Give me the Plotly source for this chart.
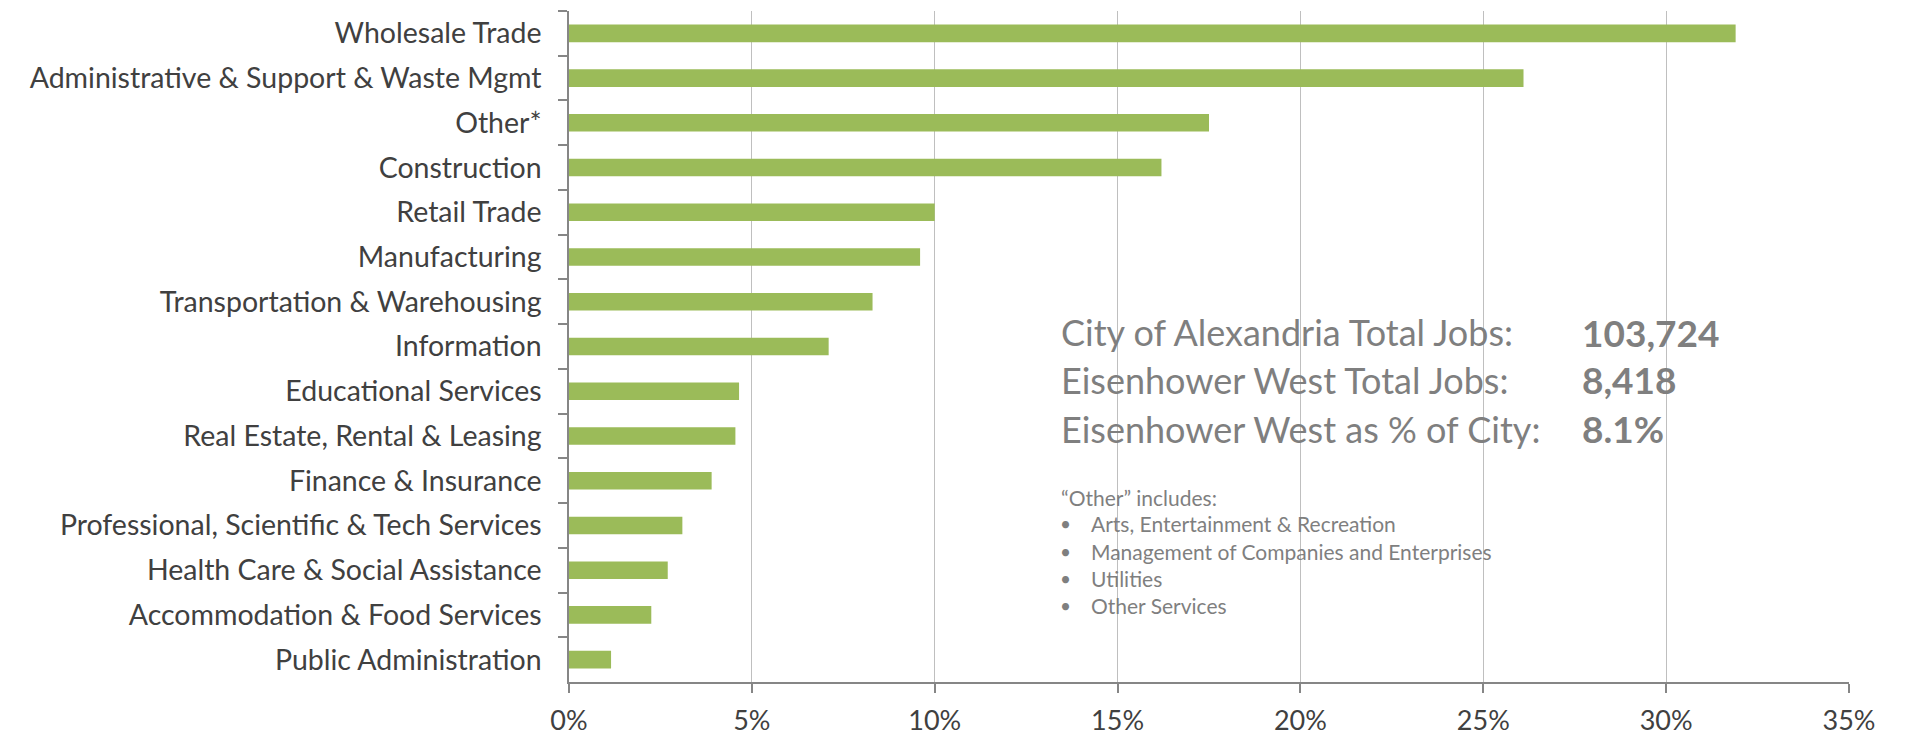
import plotly.graph_objects as go

categories = [
    "Wholesale Trade",
    "Administrative & Support & Waste Mgmt",
    "Other*",
    "Construction",
    "Retail Trade",
    "Manufacturing",
    "Transportation & Warehousing",
    "Information",
    "Educational Services",
    "Real Estate, Rental & Leasing",
    "Finance & Insurance",
    "Professional, Scientific & Tech Services",
    "Health Care & Social Assistance",
    "Accommodation & Food Services",
    "Public Administration",
]
share_pct = [31.9, 26.1, 17.5, 16.2, 10.0, 9.6, 8.3, 7.1, 4.65, 4.55, 3.9, 3.1, 2.7, 2.25, 1.15]

x_ticks = [0, 5, 10, 15, 20, 25, 30, 35]

stat_labels = ["City of Alexandria Total Jobs:", "Eisenhower West Total Jobs:", "Eisenhower West as % of City:"]
stat_values = ["103,724", "8,418", "8.1%"]
other_header = "\u201cOther\u201d includes:"
other_items = ["Arts, Entertainment & Recreation", "Management of Companies and Enterprises",
               "Utilities", "Other Services"]

FONT = "Lato"
OFF = 8  # page body margin
W, H = 1917 - OFF, 739 - OFF
L, R, T, B = 569 - OFF, 68, 11 - OFF, 53
pw, ph = W - L - R, H - T - B

def px(x):
    # page pixel -> paper fraction
    return (x - OFF - L) / pw

def py(y):
    return (H - B - (y - OFF)) / ph

fig = go.Figure(go.Bar(
    x=share_pct, y=categories, orientation="h",
    marker=dict(color="#9BBB59", line=dict(width=0)),
    hoverinfo="x+y",
))

fig.update_layout(
    width=W, height=H,
    margin=dict(l=L, r=R, t=T, b=B, pad=0),
    paper_bgcolor="white", plot_bgcolor="white",
    bargap=0.607,
    showlegend=False,
    font=dict(family=FONT, color="#404040", size=26),
)
fig.update_xaxes(
    range=[0, 35], tickvals=x_ticks, ticktext=[f"{v}%" for v in x_ticks],
    showgrid=True, gridcolor="#BFBFBF", gridwidth=1.3,
    zeroline=False, showline=True, linecolor="#868686", linewidth=1.5,
    ticks="outside", ticklen=9, tickcolor="#868686", tickwidth=1.5,
    tickfont=dict(family=FONT, size=27, color="#404040"),
    ticklabelstandoff=5,
)
fig.update_yaxes(
    categoryorder="array", categoryarray=categories, autorange="reversed",
    showgrid=False, zeroline=False, showline=True, linecolor="#868686", linewidth=1.5,
    ticks="outside", ticklen=9, tickcolor="#868686", tickwidth=1.5, tickson="boundaries",
    tickfont=dict(family=FONT, size=28.5, color="#404040"),
    ticklabelstandoff=20,
)

# semi-transparent white panel behind the notes
fig.add_shape(type="rect", xref="paper", yref="paper",
              x0=px(1045), x1=px(1760), y0=py(642), y1=py(292),
              fillcolor="white", opacity=0.85, line=dict(width=0), layer="between")

row_y = [334, 382, 431]
for lab, val, yy in zip(stat_labels, stat_values, row_y):
    fig.add_annotation(xref="paper", yref="paper", x=px(1059), y=py(yy), text=lab,
                       showarrow=False, xanchor="left", yanchor="middle",
                       font=dict(family=FONT, size=36, color="#7F7F7F"))
    fig.add_annotation(xref="paper", yref="paper", x=px(1580), y=py(yy), text=f"<b>{val}</b>",
                       showarrow=False, xanchor="left", yanchor="middle",
                       font=dict(family=FONT, size=37, color="#7F7F7F"))

fig.add_annotation(xref="paper", yref="paper", x=px(1059), y=py(500), text=other_header,
                   showarrow=False, xanchor="left", yanchor="middle",
                   font=dict(family=FONT, size=21, color="#7F7F7F"))
for i, item in enumerate(other_items):
    yy = 527 + 27.5 * i
    fig.add_annotation(xref="paper", yref="paper", x=px(1058), y=py(yy), text="\u2022",
                       showarrow=False, xanchor="left", yanchor="middle",
                       font=dict(family=FONT, size=19, color="#7F7F7F"))
    fig.add_annotation(xref="paper", yref="paper", x=px(1089), y=py(yy), text=item,
                       showarrow=False, xanchor="left", yanchor="middle",
                       font=dict(family=FONT, size=21, color="#7F7F7F"))

fig.write_html("out.html")
